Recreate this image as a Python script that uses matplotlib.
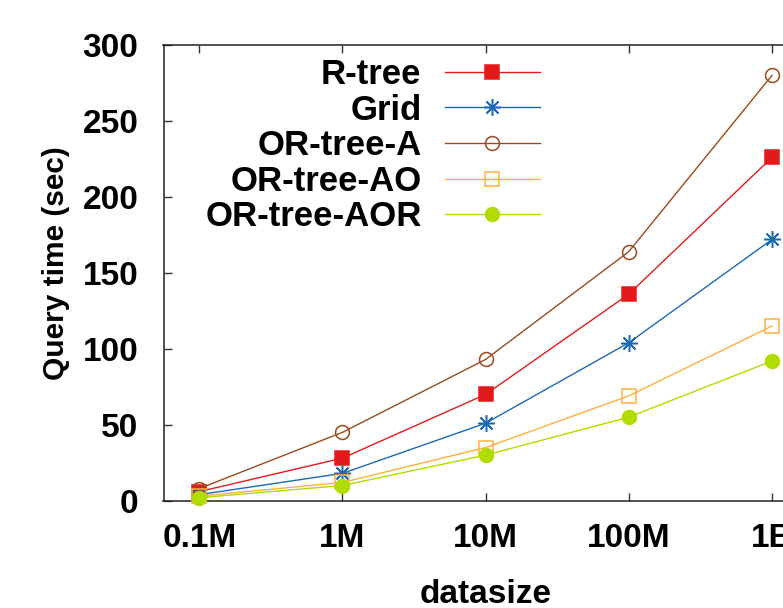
import matplotlib
matplotlib.use('Agg')
import matplotlib.pyplot as plt

plt.rcParams['font.family'] = ['Liberation Sans', 'DejaVu Sans']
plt.rcParams['font.weight'] = 'bold'
plt.rcParams['axes.labelweight'] = 'bold'

# x categories (log spaced data sizes)
sizes = [1e5, 1e6, 1e7, 1e8, 1e9]
size_labels = ['0.1M', '1M', '10M', '100M', '1B']

# query time in seconds
rtree = [6, 28, 70, 136, 226]
grid = [4, 18, 51, 104, 172]
ortree_a = [8, 45, 93, 164, 280]
ortree_ao = [3, 12, 35, 69, 115]
ortree_aor = [2, 10, 30, 55, 92]

series = [
    ('R-tree', rtree, '#e31a1c', 's', True, 10),
    ('Grid', grid, '#1a6ab4', (8, 2, 0), True, 12),
    ('OR-tree-A', ortree_a, '#9a4a1c', 'o', False, 10),
    ('OR-tree-AO', ortree_ao, '#ffaf3c', 's', False, 10),
    ('OR-tree-AOR', ortree_aor, '#b0dc00', 'o', True, 10),
]

fig = plt.figure(figsize=(7.83, 6.08), dpi=100)
# axes runs past the right edge on purpose (the original is cropped there)
ax = fig.add_axes([163.5 / 783, 107.3 / 608, 644.3 / 783, 455.7 / 608])

for name, vals, col, mk, filled, ms in series:
    ax.plot(sizes, vals, color=col, lw=1.0, marker=mk, ms=ms,
            mfc=col if filled else 'none', mec=col, mew=1.1,
            label=name, clip_on=False, zorder=3)

ax.set_xscale('log')
ax.set_xlim(10 ** 4.75, 10 ** 9.25)
ax.set_ylim(0, 300)
ax.set_xticks(sizes)
ax.set_xticklabels(size_labels)
ax.set_yticks(range(0, 301, 50))
ax.minorticks_off()

ax.tick_params(axis='both', direction='in', length=6, width=1.0,
               top=True, right=True, labelsize=24, color='#333333')
ax.tick_params(axis='x', pad=16)
ax.tick_params(axis='y', pad=18)
for sp in ax.spines.values():
    sp.set_linewidth(1.1)
    sp.set_color('#222222')

ax.set_xlabel('datasize', fontsize=24)
ax.set_ylabel('Query time (sec)', fontsize=21.5)
ax.xaxis.set_label_coords(0.5, -(579 - 500.7) / 455.7)
ax.yaxis.set_label_coords((70 - 163.5) / 644.3, (500.7 - 263) / 455.7)

ax.legend(loc='upper right', bbox_to_anchor=(540 / 783, 1 - 58 / 608),
          bbox_transform=fig.transFigure, frameon=False, markerfirst=False,
          numpoints=1, fontsize=25, handlelength=2.75, handletextpad=0.66,
          labelspacing=0.075, borderpad=0, borderaxespad=0)

fig.savefig('out.png', dpi=100)
